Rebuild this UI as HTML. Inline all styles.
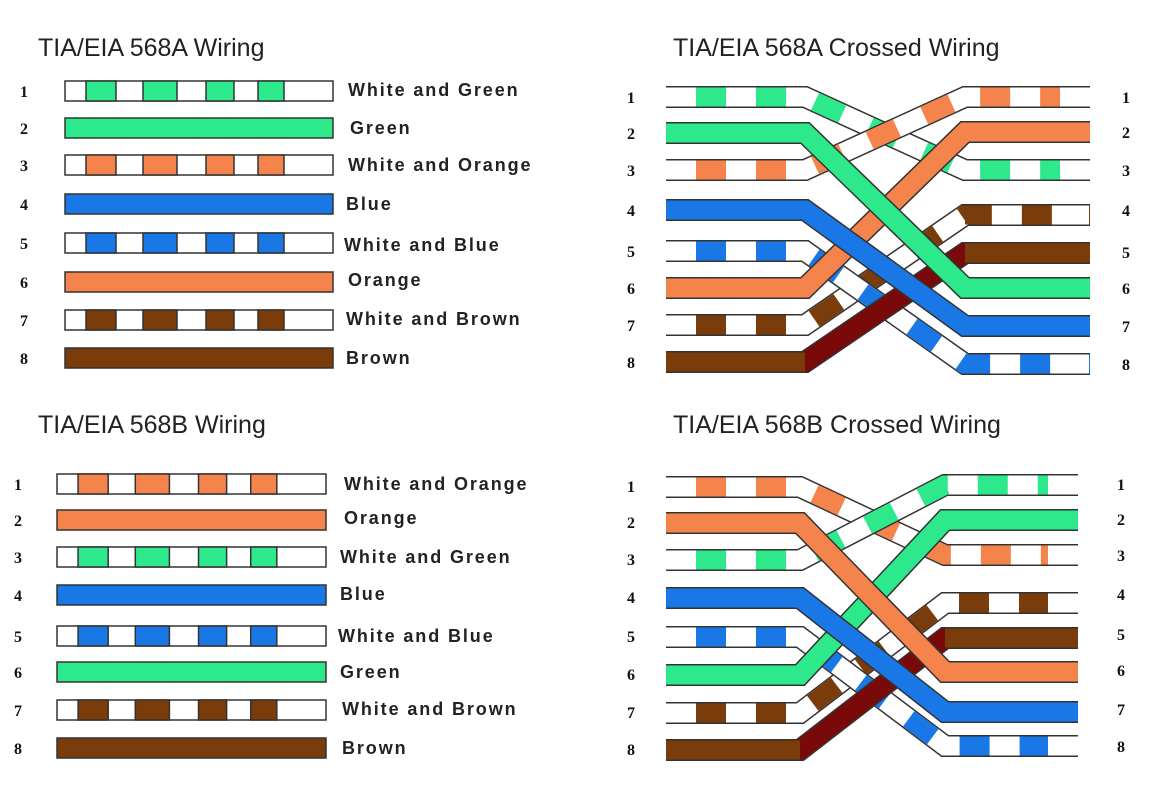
<!DOCTYPE html>
<html><head><meta charset="utf-8"><style>
body{margin:0;background:#fff;}
svg{display:block}
.t{font-family:"Liberation Sans",sans-serif;font-size:25px;fill:#222}
.n{font-family:"Liberation Serif",serif;font-weight:bold;font-size:16px;fill:#111}
.l{font-family:"Liberation Sans",sans-serif;font-weight:bold;font-size:18px;fill:#222;letter-spacing:1.9px}
</style></head><body>
<svg id="s" width="1174" height="799" xmlns="http://www.w3.org/2000/svg">
<rect width="1174" height="799" fill="#fff"/>
<g id="w"></g>
<text class="t" x="38" y="56">TIA/EIA 568A Wiring</text>
<text class="t" x="673" y="56">TIA/EIA 568A Crossed Wiring</text>
<text class="t" x="38" y="433">TIA/EIA 568B Wiring</text>
<text class="t" x="673" y="433">TIA/EIA 568B Crossed Wiring</text>
<g class="n">
<text x="20" y="97">1</text><text x="20" y="134">2</text><text x="20" y="171">3</text><text x="20" y="210">4</text><text x="20" y="249">5</text><text x="20" y="288">6</text><text x="20" y="326">7</text><text x="20" y="364">8</text>
<text x="14" y="490">1</text><text x="14" y="526">2</text><text x="14" y="563">3</text><text x="14" y="601">4</text><text x="14" y="642">5</text><text x="14" y="678">6</text><text x="14" y="716">7</text><text x="14" y="754">8</text>
<text x="627" y="103">1</text><text x="627" y="139">2</text><text x="627" y="176">3</text><text x="627" y="216">4</text><text x="627" y="257">5</text><text x="627" y="294">6</text><text x="627" y="331">7</text><text x="627" y="368">8</text>
<text x="1122" y="103">1</text><text x="1122" y="138">2</text><text x="1122" y="176">3</text><text x="1122" y="216">4</text><text x="1122" y="258">5</text><text x="1122" y="294">6</text><text x="1122" y="332">7</text><text x="1122" y="370">8</text>
<text x="627" y="492">1</text><text x="627" y="528">2</text><text x="627" y="565">3</text><text x="627" y="603">4</text><text x="627" y="642">5</text><text x="627" y="680">6</text><text x="627" y="718">7</text><text x="627" y="755">8</text>
<text x="1117" y="490">1</text><text x="1117" y="525">2</text><text x="1117" y="561">3</text><text x="1117" y="600">4</text><text x="1117" y="640">5</text><text x="1117" y="676">6</text><text x="1117" y="715">7</text><text x="1117" y="752">8</text>
</g>
<g class="l">
<text x="348" y="96">White and Green</text><text x="350" y="134">Green</text><text x="348" y="171">White and Orange</text><text x="346" y="210">Blue</text><text x="344" y="251">White and Blue</text><text x="348" y="286">Orange</text><text x="346" y="325">White and Brown</text><text x="346" y="364">Brown</text>
<text x="344" y="490">White and Orange</text><text x="344" y="524">Orange</text><text x="340" y="563">White and Green</text><text x="340" y="600">Blue</text><text x="338" y="642">White and Blue</text><text x="340" y="678">Green</text><text x="342" y="715">White and Brown</text><text x="342" y="754">Brown</text>
</g>
</svg>
<script>
var G='#2ee88c',O='#f5844c',B='#1a78e6',R='#7a3c0a';
var g=document.getElementById('w'),NS='http://www.w3.org/2000/svg';
function el(t,a){var e=document.createElementNS(NS,t);for(var k in a)e.setAttribute(k,a[k]);g.appendChild(e);return e;}
function straight(x1,x2,y,c,st){
 el('rect',{x:x1,y:y-10,width:x2-x1,height:20,fill:st?'#fff':c,stroke:'#333','stroke-width':1.5});
 if(st){var s=[[21,51],[78,112],[141,169],[193,219]];var k=(x2-x1)/268;
  s.forEach(function(p){el('rect',{x:x1+p[0]*k,y:y-10,width:(p[1]-p[0])*k,height:20,fill:c,stroke:'#333','stroke-width':1.5});});}
}
var A=[[G,1],[G,0],[O,1],[B,0],[B,1],[O,0],[R,1],[R,0]];
var Bc=[[O,1],[O,0],[G,1],[B,0],[B,1],[G,0],[R,1],[R,0]];
var yA=[91,128,165,204,243,282,320,358],yB=[484,520,557,595,636,672,710,748];
A.forEach(function(a,i){straight(65,333,yA[i],a[0],a[1]);});
Bc.forEach(function(a,i){straight(57,326,yB[i],a[0],a[1]);});
var map=[3,6,1,7,8,2,4,5];
function cross(x1,b1,b2,x2,yl,yr,cols){
 var order=[6,4,7,0,2,5,3,1];
 order.forEach(function(i){var c=cols[i][0],st=cols[i][1],yy=yr[map[i]-1];
  var d='M'+x1+' '+yl[i]+' L'+b1+' '+yl[i]+' L'+b2+' '+yy+' L'+x2+' '+yy;
  el('path',{d:d,fill:'none',stroke:'#333','stroke-width':22});
  el('path',{d:d,fill:'none',stroke:st?'#fff':(i==7?'#7a0a0a':c),'stroke-width':19});
  if(st){el('path',{d:d,fill:'none',stroke:c,'stroke-width':19,'stroke-dasharray':'30 30','stroke-dashoffset':-30});
   el('rect',{x:x2-30,y:yy-9.5,width:29,height:19,fill:'#fff'});}
  if(i==7){el('path',{d:'M'+x1+' '+yl[i]+' L'+b1+' '+yl[i],stroke:R,'stroke-width':19});
   el('path',{d:'M'+b2+' '+yy+' L'+x2+' '+yy,stroke:R,'stroke-width':19});}
 });
}
cross(666,805,965,1090,[97,133,170,210,251,288,325,362],[97,132,170,215,253,288,326,364],A);
cross(666,800,945,1078,[487,523,560,598,637,675,713,750],[485,520,555,603,638,672,712,746],Bc);
</script>
</body></html>
